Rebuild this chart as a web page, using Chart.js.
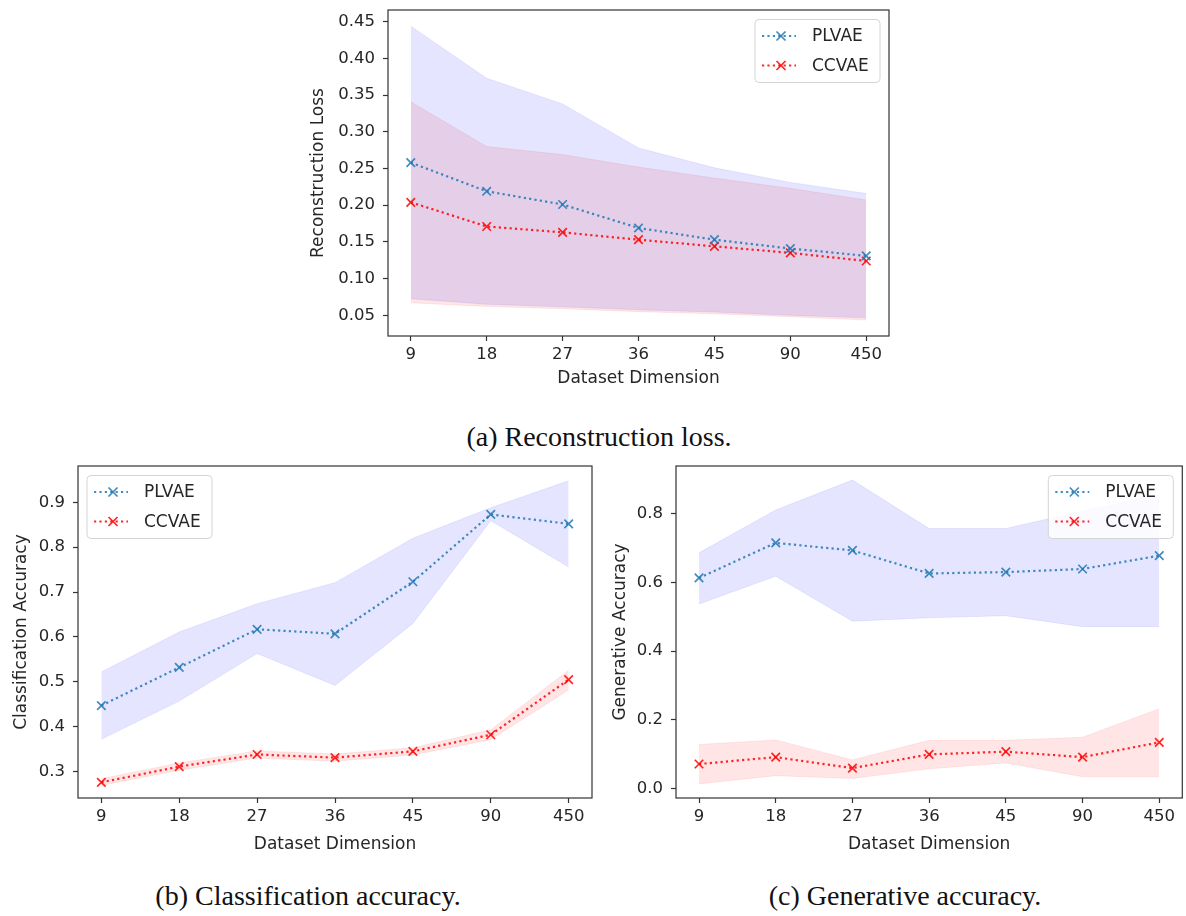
<!DOCTYPE html>
<html>
<head>
<meta charset="utf-8">
<script src="https://cdn.jsdelivr.net/npm/chart.js@4"></script>
<style>
  html, body { margin: 0; padding: 0; background: #fff; }
  body { width: 1186px; height: 916px; position: relative; overflow: hidden; }
  .panel { position: absolute; }
  .caption {
    position: absolute;
    font-family: "Liberation Serif", "Times New Roman", serif;
    font-size: 28px;
    line-height: 28px;
    color: #111;
    text-align: center;
    white-space: nowrap;
  }
</style>
</head>
<body>
<div class="panel" style="left:300px; top:0px;"><canvas id="recon-chart" width="600" height="400"></canvas></div>
<div class="caption" style="left:399px; top:423px; width:400px;">(a) Reconstruction loss.</div>
<div class="panel" style="left:0px; top:450px;"><canvas id="cls-chart" width="600" height="420"></canvas></div>
<div class="caption" style="left:108px; top:882px; width:400px;">(b) Classification accuracy.</div>
<div class="panel" style="left:600px; top:450px;"><canvas id="gen-chart" width="590" height="420"></canvas></div>
<div class="caption" style="left:705px; top:882px; width:400px;">(c) Generative accuracy.</div>

<script>
// dataset dimensions (x axis)
const dims = ['9', '18', '27', '36', '45', '90', '450'];

// (a) reconstruction loss
const reconTicks = [0.05, 0.10, 0.15, 0.20, 0.25, 0.30, 0.35, 0.40, 0.45];
const reconPlvae = [0.258, 0.219, 0.201, 0.169, 0.153, 0.141, 0.131];
const reconPlvaeUpper = [0.444, 0.373, 0.338, 0.278, 0.251, 0.231, 0.216];
const reconPlvaeLower = [0.0725, 0.065, 0.0615, 0.0575, 0.0545, 0.050, 0.0465];
const reconCcvae = [0.204, 0.171, 0.163, 0.153, 0.144, 0.135, 0.124];
const reconCcvaeUpper = [0.341, 0.280, 0.269, 0.252, 0.237, 0.223, 0.207];
const reconCcvaeLower = [0.067, 0.062, 0.059, 0.055, 0.052, 0.048, 0.0435];

// (b) classification accuracy
const clsTicks = [0.3, 0.4, 0.5, 0.6, 0.7, 0.8, 0.9];
const clsPlvae = [0.447, 0.532, 0.617, 0.607, 0.723, 0.873, 0.852];
const clsPlvaeUpper = [0.522, 0.611, 0.674, 0.721, 0.820, 0.888, 0.948];
const clsPlvaeLower = [0.372, 0.457, 0.563, 0.492, 0.630, 0.859, 0.756];
const clsCcvae = [0.276, 0.311, 0.338, 0.331, 0.345, 0.382, 0.505];
const clsCcvaeUpper = [0.284, 0.319, 0.346, 0.339, 0.353, 0.393, 0.526];
const clsCcvaeLower = [0.269, 0.303, 0.330, 0.323, 0.337, 0.371, 0.482];

// (c) generative accuracy
const genTicks = [0.0, 0.2, 0.4, 0.6, 0.8];
const genPlvae = [0.613, 0.715, 0.693, 0.626, 0.630, 0.639, 0.678];
const genPlvaeUpper = [0.686, 0.811, 0.898, 0.757, 0.757, 0.808, 0.855];
const genPlvaeLower = [0.537, 0.618, 0.487, 0.497, 0.503, 0.471, 0.471];
const genCcvae = [0.071, 0.091, 0.059, 0.099, 0.107, 0.091, 0.134];
const genCcvaeUpper = [0.128, 0.141, 0.083, 0.140, 0.140, 0.149, 0.232];
const genCcvaeLower = [0.013, 0.037, 0.029, 0.057, 0.074, 0.034, 0.034];

Chart.defaults.font.family = '"DejaVu Sans", sans-serif';
Chart.defaults.font.size = 16.5;
Chart.defaults.color = '#262626';

const BLUE = 'rgba(31, 119, 180, 0.85)';
const RED = 'rgba(255, 0, 0, 0.85)';

function pts(arr) {
    return arr.map((v, i) => ({ x: i, y: v }));
}

function lineSet(label, values, color) {
    return {
        label: label,
        data: pts(values),
        borderColor: color,
        borderWidth: 2.2,
        borderDash: [2.2, 3.2],
        pointStyle: 'crossRot',
        pointRadius: 6,
        pointBorderWidth: 1.7,
        pointBorderColor: color,
        fill: false,
        showInLegend: true,
        order: 0
    };
}

function bandSets(upper, lower, fillColor, edgeColor) {
    return [{
        data: pts(upper),
        borderColor: edgeColor,
        borderWidth: 1,
        pointRadius: 0,
        backgroundColor: fillColor,
        fill: '+1',
        order: 1
    }, {
        data: pts(lower),
        borderColor: edgeColor,
        borderWidth: 1,
        pointRadius: 0,
        fill: false,
        order: 1
    }];
}

// draws the full box around the plot area (matplotlib spines)
const frame = {
    id: 'frame',
    afterDatasetsDraw(chart) {
        const a = chart.chartArea;
        const ctx = chart.ctx;
        ctx.save();
        ctx.strokeStyle = '#333';
        ctx.lineWidth = 1.2;
        ctx.strokeRect(a.left, a.top, a.right - a.left, a.bottom - a.top);
        ctx.restore();
    }
};

// legend box placed inside the plot area
const insideLegend = {
    id: 'insideLegend',
    afterDraw(chart, args, opts) {
        const a = chart.chartArea;
        const ctx = chart.ctx;
        const items = chart.data.datasets.filter(d => d.showInLegend);
        const w = 125, h = 63;
        const x = opts.side === 'left' ? a.left + 9 : a.right - 9 - w;
        const y = a.top + 9.5;
        ctx.save();
        ctx.beginPath();
        ctx.roundRect(x, y, w, h, 4);
        ctx.fillStyle = 'rgba(255,255,255,0.8)';
        ctx.fill();
        ctx.strokeStyle = '#d4d4d4';
        ctx.lineWidth = 1;
        ctx.stroke();
        items.forEach((d, i) => {
            const cy = y + 16.5 + i * 29.5;
            ctx.setLineDash(d.borderDash);
            ctx.strokeStyle = d.borderColor;
            ctx.lineWidth = d.borderWidth;
            ctx.beginPath();
            ctx.moveTo(x + 7, cy);
            ctx.lineTo(x + 41, cy);
            ctx.stroke();
            ctx.setLineDash([]);
            ctx.lineWidth = d.pointBorderWidth;
            const mx = x + 26, r = 4.5;
            ctx.beginPath();
            ctx.moveTo(mx - r, cy - r); ctx.lineTo(mx + r, cy + r);
            ctx.moveTo(mx - r, cy + r); ctx.lineTo(mx + r, cy - r);
            ctx.stroke();
            ctx.fillStyle = '#262626';
            ctx.font = '17px "DejaVu Sans"';
            ctx.textBaseline = 'middle';
            ctx.fillText(d.label, x + 57, cy + 1);
        });
        ctx.restore();
    }
};

function makeChart(id, cfg) {
    const tickGrid = {
        display: true,
        drawOnChartArea: false,
        drawTicks: true,
        tickLength: 5,
        tickWidth: 1.2,
        tickColor: '#333'
    };
    return new Chart(document.getElementById(id).getContext('2d'), {
        type: 'line',
        data: {
            datasets: [
                ...bandSets(cfg.plvaeUpper, cfg.plvaeLower, 'rgba(0,0,255,0.1)', 'rgba(0,0,255,0.08)'),
                ...bandSets(cfg.ccvaeUpper, cfg.ccvaeLower, 'rgba(255,0,0,0.1)', 'rgba(255,0,0,0.08)'),
                lineSet('PLVAE', cfg.plvae, BLUE),
                lineSet('CCVAE', cfg.ccvae, RED)
            ]
        },
        options: {
            responsive: false,
            animation: false,
            layout: { padding: cfg.padding },
            plugins: {
                legend: { display: false },
                tooltip: { enabled: false },
                insideLegend: { side: cfg.legendSide }
            },
            scales: {
                x: {
                    type: 'linear',
                    min: -0.3,
                    max: 6.3,
                    border: { display: false },
                    grid: tickGrid,
                    afterBuildTicks: axis => { axis.ticks = dims.map((d, i) => ({ value: i })); },
                    afterFit: axis => {
                        axis.height = cfg.xHeight;
                        axis.paddingLeft = 0;
                        axis.paddingRight = 0;
                    },
                    ticks: { padding: 4, maxRotation: 0, autoSkip: false, callback: v => dims[v] },
                    title: { display: true, text: 'Dataset Dimension', font: { size: 17 }, padding: { top: 0, bottom: cfg.xTitlePad } }
                },
                y: {
                    min: cfg.yMin,
                    max: cfg.yMax,
                    border: { display: false },
                    grid: tickGrid,
                    afterBuildTicks: axis => { axis.ticks = cfg.ticks.map(v => ({ value: v })); },
                    afterFit: axis => {
                        axis.width = cfg.yWidth;
                        axis.paddingTop = 0;
                        axis.paddingBottom = 0;
                    },
                    ticks: { padding: 8, callback: v => v.toFixed(cfg.decimals) },
                    title: { display: true, text: cfg.yTitle, font: { size: 17 }, padding: { top: cfg.yTitlePad, bottom: 0 } }
                }
            }
        },
        plugins: [frame, insideLegend]
    });
}

makeChart('recon-chart', {
    plvae: reconPlvae, plvaeUpper: reconPlvaeUpper, plvaeLower: reconPlvaeLower,
    ccvae: reconCcvae, ccvaeUpper: reconCcvaeUpper, ccvaeLower: reconCcvaeLower,
    ticks: reconTicks, decimals: 2, yMin: 0.0218, yMax: 0.466,
    yTitle: 'Reconstruction Loss', legendSide: 'right',
    padding: { top: 10, right: 11, left: 0, bottom: 0 },
    yWidth: 88, xHeight: 64, xTitlePad: 11, yTitlePad: 8
});

makeChart('cls-chart', {
    plvae: clsPlvae, plvaeUpper: clsPlvaeUpper, plvaeLower: clsPlvaeLower,
    ccvae: clsCcvae, ccvaeUpper: clsCcvaeUpper, ccvaeLower: clsCcvaeLower,
    ticks: clsTicks, decimals: 1, yMin: 0.241, yMax: 0.981,
    yTitle: 'Classification Accuracy', legendSide: 'left',
    padding: { top: 16, right: 8, left: 0, bottom: 0 },
    yWidth: 78, xHeight: 72, xTitlePad: 15, yTitlePad: 11
});

makeChart('gen-chart', {
    plvae: genPlvae, plvaeUpper: genPlvaeUpper, plvaeLower: genPlvaeLower,
    ccvae: genCcvae, ccvaeUpper: genCcvaeUpper, ccvaeLower: genCcvaeLower,
    ticks: genTicks, decimals: 1, yMin: -0.028, yMax: 0.939,
    yTitle: 'Generative Accuracy', legendSide: 'right',
    padding: { top: 16, right: 3, left: 0, bottom: 0 },
    yWidth: 76, xHeight: 72, xTitlePad: 15, yTitlePad: 10
});
</script>
</body>
</html>
